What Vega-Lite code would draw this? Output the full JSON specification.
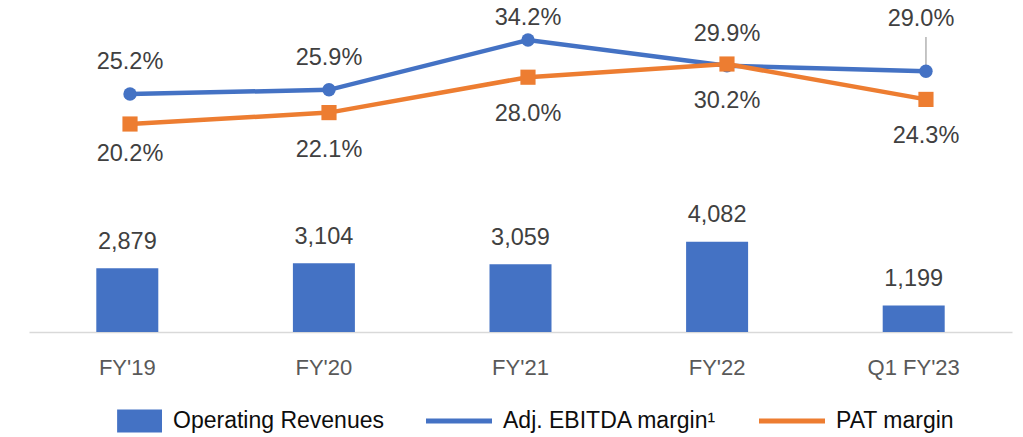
{
  "$schema": "https://vega.github.io/schema/vega-lite/v6.json",
  "width": 983,
  "height": 332,
  "autosize": {"type": "none"},
  "padding": {"left": 29, "top": 0, "right": 11, "bottom": 105},
  "background": "white",
  "config": {"view": {"stroke": null}, "font": "Liberation Sans"},
  "datasets": {
    "rev": [
      {"period": "FY'19", "series": "Operating Revenues", "value": 2879},
      {"period": "FY'20", "series": "Operating Revenues", "value": 3104},
      {"period": "FY'21", "series": "Operating Revenues", "value": 3059},
      {"period": "FY'22", "series": "Operating Revenues", "value": 4082},
      {"period": "Q1 FY'23", "series": "Operating Revenues", "value": 1199}
    ],
    "margin": [
      {"period": "FY'19", "series": "Adj. EBITDA margin¹", "value": 0.252},
      {"period": "FY'20", "series": "Adj. EBITDA margin¹", "value": 0.259},
      {"period": "FY'21", "series": "Adj. EBITDA margin¹", "value": 0.342},
      {"period": "FY'22", "series": "Adj. EBITDA margin¹", "value": 0.299},
      {"period": "Q1 FY'23", "series": "Adj. EBITDA margin¹", "value": 0.290},
      {"period": "FY'19", "series": "PAT margin", "value": 0.202},
      {"period": "FY'20", "series": "PAT margin", "value": 0.221},
      {"period": "FY'21", "series": "PAT margin", "value": 0.280},
      {"period": "FY'22", "series": "PAT margin", "value": 0.302},
      {"period": "Q1 FY'23", "series": "PAT margin", "value": 0.243}
    ]
  },
  "layer": [
    {
      "data": {"name": "rev"},
      "encoding": {
        "x": {
          "field": "period", "type": "nominal", "sort": null,
          "scale": {"type": "band", "paddingInner": 0, "paddingOuter": 0},
          "axis": {
            "title": null, "ticks": false, "tickSize": 0, "labelAngle": 0,
            "labelFont": "Liberation Sans", "labelFontSize": 22, "labelColor": "#595959",
            "labelPadding": 25, "labelBaseline": "top",
            "domainColor": "#D9D9D9", "domainWidth": 1.5, "grid": false
          }
        },
        "y": {"field": "value", "type": "quantitative", "scale": {"domain": [0, 15000]}, "axis": null}
      },
      "layer": [
        {
          "mark": {"type": "bar", "width": 62},
          "encoding": {
            "color": {
              "field": "series", "type": "nominal",
              "scale": {
                "domain": ["Operating Revenues", "Adj. EBITDA margin¹", "PAT margin"],
                "range": ["#4472C4", "#4472C4", "#ED7D31"]
              },
              "legend": {
                "title": null, "orient": "none", "legendX": 67, "legendY": 388,
                "direction": "horizontal", "symbolSize": 4356, "labelOffset": 11,
                "columnPadding": 42, "labelFont": "Liberation Sans", "labelFontSize": 23,
                "labelColor": "#0D0D0D", "labelLimit": 400, "symbolStrokeWidth": 0,
                "encode": {
                  "symbols": {
                    "update": {
                      "shape": {"signal": "datum.value === 'Operating Revenues' ? 'M-0.36,-0.35H1V0.35H-0.36Z' : 'M-1,-0.076H1V0.076H-1Z'"},
                      "fill": {"signal": "scale('color', datum.value)"},
                      "stroke": {"value": "transparent"},
                      "strokeWidth": {"value": 0},
                      "opacity": {"value": 1},
                      "fillOpacity": {"value": 1}
                    }
                  }
                }
              }
            }
          }
        },
        {
          "mark": {"type": "text", "dy": -26.5, "baseline": "middle", "fontSize": 23.5, "color": "#404040", "font": "Liberation Sans"},
          "encoding": {"text": {"field": "value", "type": "quantitative", "format": ","}}
        }
      ]
    },
    {
      "data": {"name": "margin"},
      "encoding": {
        "x": {
          "field": "period", "type": "nominal", "sort": null,
          "scale": {"type": "point", "padding": 0.47, "align": 0.54},
          "axis": null
        },
        "y": {"field": "value", "type": "quantitative", "scale": {"domain": [-0.1447, 0.4087]}, "axis": null}
      },
      "layer": [
        {
          "transform": [{"filter": "datum.series === 'Adj. EBITDA margin¹'"}],
          "mark": {"type": "line", "strokeWidth": 4.5},
          "encoding": {"color": {"field": "series", "type": "nominal"}}
        },
        {
          "transform": [{"filter": "datum.series === 'Adj. EBITDA margin¹' && datum.period === 'Q1 FY\\'23'"}],
          "mark": {"type": "rule", "color": "#A6A6A6", "strokeWidth": 1.3},
          "encoding": {"y2": {"datum": 0.347}}
        },
        {
          "transform": [{"filter": "datum.series === 'Adj. EBITDA margin¹'"}],
          "mark": {"type": "point", "shape": "circle", "filled": true, "size": 180, "opacity": 1},
          "encoding": {"color": {"field": "series", "type": "nominal"}}
        },
        {
          "transform": [{"filter": "datum.series === 'PAT margin'"}],
          "mark": {"type": "line", "strokeWidth": 4.5},
          "encoding": {"color": {"field": "series", "type": "nominal"}}
        },
        {
          "transform": [{"filter": "datum.series === 'PAT margin'"}],
          "mark": {"type": "point", "shape": "square", "filled": true, "size": 230, "opacity": 1},
          "encoding": {"color": {"field": "series", "type": "nominal"}}
        },
        {
          "transform": [{"filter": "datum.series === 'Adj. EBITDA margin¹' && datum.period !== 'FY\\'21' && datum.period !== 'Q1 FY\\'23'"}],
          "mark": {"type": "text", "dy": -32, "baseline": "middle", "fontSize": 23.5, "color": "#404040", "font": "Liberation Sans"},
          "encoding": {"text": {"field": "value", "type": "quantitative", "format": ".1%"}}
        },
        {
          "transform": [{"filter": "datum.series === 'Adj. EBITDA margin¹' && datum.period === 'FY\\'21'"}],
          "mark": {"type": "text", "dy": -22, "baseline": "middle", "fontSize": 23.5, "color": "#404040", "font": "Liberation Sans"},
          "encoding": {"text": {"field": "value", "type": "quantitative", "format": ".1%"}}
        },
        {
          "transform": [{"filter": "datum.series === 'Adj. EBITDA margin¹' && datum.period === 'Q1 FY\\'23'"}],
          "mark": {"type": "text", "dy": -52, "dx": -5, "baseline": "middle", "fontSize": 23.5, "color": "#404040", "font": "Liberation Sans"},
          "encoding": {"text": {"field": "value", "type": "quantitative", "format": ".1%"}}
        },
        {
          "transform": [{"filter": "datum.series === 'PAT margin' && datum.period === 'FY\\'19'"}],
          "mark": {"type": "text", "dy": 30, "baseline": "middle", "fontSize": 23.5, "color": "#404040", "font": "Liberation Sans"},
          "encoding": {"text": {"field": "value", "type": "quantitative", "format": ".1%"}}
        },
        {
          "transform": [{"filter": "datum.series === 'PAT margin' && datum.period !== 'FY\\'19'"}],
          "mark": {"type": "text", "dy": 37, "baseline": "middle", "fontSize": 23.5, "color": "#404040", "font": "Liberation Sans"},
          "encoding": {"text": {"field": "value", "type": "quantitative", "format": ".1%"}}
        }
      ]
    }
  ],
  "resolve": {"scale": {"x": "independent", "y": "independent"}}
}
